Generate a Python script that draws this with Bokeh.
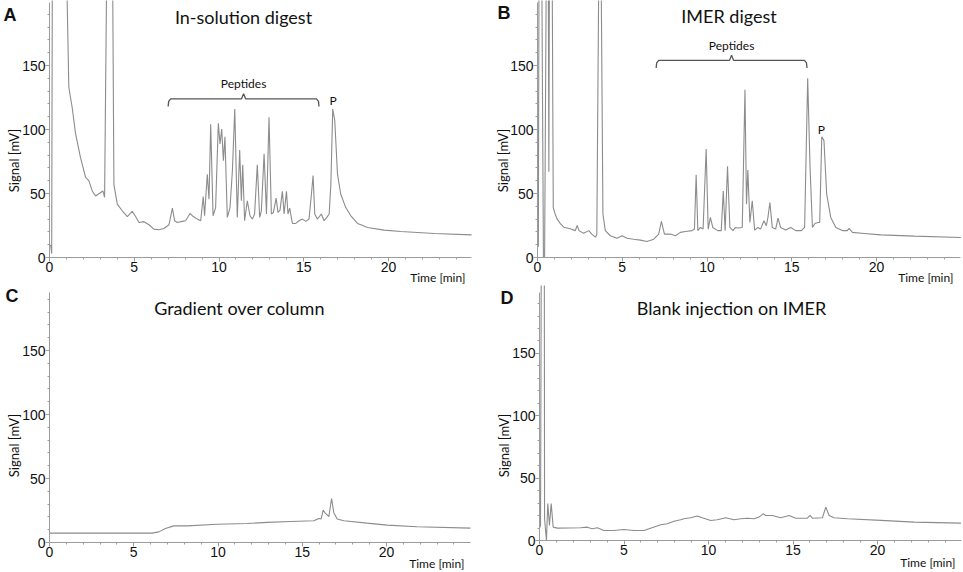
from math import pi
from bokeh.plotting import figure
from bokeh.models import Range1d, SingleIntervalTicker, Label
from bokeh.layouts import row, column
from bokeh.embed import file_html
from bokeh.resources import INLINE

# ---------------- data (time [min], signal [mV]) ----------------
trace_A = [(0, 10), (0.08, 9), (0.13, 3), (0.18, 300), (0.95, 300), (1.0, 230), (1.14, 133),
           (1.34, 117), (1.54, 96.5), (1.83, 78), (2.13, 62.6), (2.32, 60), (2.52, 52), (2.72, 48),
           (3.0, 50.6), (3.15, 52), (3.25, 47), (3.38, 230), (3.55, 350), (3.72, 230), (3.8, 57),
           (4.0, 41.7), (4.29, 36.5), (4.59, 32), (4.88, 36), (5.08, 32), (5.28, 27.4), (5.57, 28),
           (5.87, 25.6), (6.16, 22.2), (6.46, 21.7), (6.75, 22.7), (7.05, 25.6), (7.25, 38.6),
           (7.38, 28.7), (7.54, 27.4), (7.83, 28.2), (8.03, 28.7), (8.29, 34.4), (8.48, 32),
           (8.72, 30), (8.92, 28.7), (9.07, 47.7), (9.15, 32.6), (9.31, 65), (9.41, 45.6),
           (9.51, 104), (9.65, 32.6), (9.8, 39), (9.96, 104.9), (10.06, 88.7), (10.16, 100.4),
           (10.26, 75.7), (10.35, 94.4), (10.49, 31.3), (10.65, 39), (10.79, 67.8), (10.93, 116),
           (11.08, 31.3), (11.22, 84), (11.32, 44.3), (11.4, 72.5), (11.51, 28.7), (11.67, 44.3),
           (11.83, 32.6), (11.97, 30), (12.1, 34), (12.26, 72.5), (12.4, 31.3), (12.5, 36.5),
           (12.66, 81), (12.8, 34), (12.95, 109.6), (13.09, 34), (13.21, 35.2), (13.37, 46.4),
           (13.48, 35.2), (13.6, 37), (13.74, 51.7), (13.84, 34), (13.98, 51.7), (14.07, 34),
           (14.17, 38.6), (14.33, 26.6), (14.53, 26.6), (14.72, 28.7), (14.92, 30), (15.12, 28.2),
           (15.31, 30), (15.45, 49), (15.55, 64), (15.65, 34), (15.8, 30), (16.04, 34), (16.2, 28.7),
           (16.36, 31.3), (16.5, 34), (16.6, 57.4), (16.71, 116), (16.83, 107), (16.99, 65.2),
           (17.18, 49.6), (17.48, 39), (17.78, 32.6), (18.17, 26.6), (18.37, 25.6), (18.76, 23.5),
           (19.74, 21.4), (20.73, 20.3), (22.7, 18.8), (24.9, 17.7)]

trace_B = [(0, 8), (0.05, 9), (0.1, 300), (0.22, 300), (0.35, 0), (0.42, 1), (0.55, 300),
           (0.62, 300), (0.67, 67), (0.72, 300), (0.84, 300), (0.93, 39), (1.04, 34), (1.16, 30),
           (1.35, 26.5), (1.55, 23.7), (1.93, 22.5), (2.23, 21), (2.34, 25), (2.45, 21), (2.72, 19),
           (3.03, 21), (3.2, 18.3), (3.42, 15.9), (3.5, 18), (3.62, 230), (3.68, 300), (3.75, 230),
           (3.86, 34), (4.0, 21), (4.3, 17), (4.69, 15.1), (4.99, 17), (5.28, 15.1), (5.67, 14.3),
           (6.07, 13.6), (6.46, 12.5), (6.86, 14.3), (7.15, 18.3), (7.31, 28.2), (7.49, 18.3),
           (7.84, 18.3), (8.14, 17), (8.43, 19.6), (8.73, 20.3), (9.12, 21), (9.26, 22.2),
           (9.36, 64.7), (9.46, 21), (9.61, 23.5), (9.77, 22.2), (9.95, 84.8), (10.07, 22.2),
           (10.2, 31.3), (10.34, 23.5), (10.64, 21), (10.84, 21), (10.96, 52), (11.07, 21),
           (11.21, 71.2), (11.35, 23.5), (11.53, 21), (11.68, 23.5), (11.82, 23), (12.08, 23.5),
           (12.24, 131), (12.33, 41.7), (12.41, 68.3), (12.53, 27.4), (12.67, 44.3), (12.81, 21.4),
           (13.0, 23.5), (13.16, 22.2), (13.36, 28.7), (13.5, 24.8), (13.6, 31.8), (13.71, 43),
           (13.85, 23.5), (14.05, 22.2), (14.19, 30.8), (14.34, 23.5), (14.64, 21.4), (14.94, 23.5),
           (15.24, 21), (15.57, 21), (15.76, 23.5), (15.94, 140), (16.08, 70.4), (16.22, 23.5),
           (16.37, 26.6), (16.55, 27.4), (16.65, 27.4), (16.77, 94.4), (16.9, 91.3), (17.06, 49.6),
           (17.3, 31.3), (17.6, 23.5), (17.99, 21), (18.28, 21), (18.38, 22.7), (18.58, 19.6),
           (19.27, 18.8), (20.26, 17.7), (22.23, 16.7), (24.98, 15.6)]

trace_C = [(0, 7.3), (6.09, 7.3), (6.49, 8.3), (6.88, 11), (7.38, 13), (8.17, 13), (9.95, 14.3),
           (11.73, 14.9), (12.92, 15.7), (14.3, 16.4), (15.69, 17), (15.98, 18.8), (16.12, 18.3),
           (16.24, 25.3), (16.38, 22.7), (16.58, 20.3), (16.74, 34.4), (16.87, 23.5), (17.07, 18.3),
           (17.47, 17), (18.85, 15.1), (20.04, 13.6), (21.82, 12.3), (24.98, 11.2)]

trace_D = [(0, 10), (0.06, 12), (0.12, 300), (0.28, 300), (0.3, 17.4), (0.41, 0), (0.49, 29.7),
           (0.59, 12), (0.69, 29.7), (0.81, 10.7), (1.05, 9.9), (2.43, 10.2), (2.82, 10.7),
           (3.12, 9.4), (3.42, 10.2), (3.81, 8), (4.4, 8), (4.99, 8.8), (5.59, 8), (6.18, 8),
           (6.57, 9.9), (7.17, 12.6), (7.56, 13.4), (7.96, 15.5), (8.35, 16.6), (8.55, 17.4),
           (8.94, 18.2), (9.34, 19.6), (9.63, 18.2), (10.13, 16.1), (10.52, 16.6), (11.02, 18.2),
           (11.51, 16.6), (11.91, 17.4), (12.3, 17.9), (12.7, 17.4), (12.99, 18.8), (13.23, 21.4),
           (13.39, 20.1), (13.78, 20.1), (14.27, 18.2), (14.77, 20.1), (15.16, 17.9), (15.85, 17.9),
           (16.01, 20.1), (16.15, 17.9), (16.74, 18.2), (16.94, 26.8), (17.14, 20.1), (17.43, 18.2),
           (18.22, 17.4), (20.2, 16.1), (22.17, 14.7), (24.94, 13.9)]

panel_letters = ["A", "B", "C", "D"]
panel_titles = ["In-solution digest", "IMER digest", "Gradient over column", "Blank injection on IMER"]
x_axis_label = "Time [min]"
y_axis_label = "Signal [mV]"
x_tick_step = 5
y_tick_step = 50

# peptide window annotations: (start, end) in min, bracket level in mV
peptide_window_A = (7.0, 15.9, 124)
peptide_window_B = (7.0, 15.9, 154)
protein_peak_A = (16.73, 123)
protein_peak_B = (16.75, 100)

TRACE = "#8c8c8c"
AXIS = "#9c9c9c"
TEXT = "#111111"


def make_panel(trace, letter, title, fig_w, fig_h, left, bottom, ppm, ppv, x_len, y_len, txt):
    """left/bottom: pixel position of the origin inside the figure; ppm/ppv: px per min / mV."""
    t = [a for a, _ in trace]
    s = [b for _, b in trace]
    x0 = -left / ppm
    x1 = (fig_w - left) / ppm
    y0 = -(fig_h - bottom) / ppv
    y1 = bottom / ppv
    p = figure(width=fig_w, height=fig_h, x_range=Range1d(x0, x1), y_range=Range1d(y0, y1),
               output_backend="svg", toolbar_location=None,
               min_border_left=0, min_border_right=0, min_border_top=0, min_border_bottom=0)
    p.outline_line_color = None
    p.grid.visible = False
    p.background_fill_color = "white"
    p.border_fill_color = "white"
    p.xaxis.ticker = SingleIntervalTicker(interval=x_tick_step, num_minor_ticks=5)
    p.yaxis.ticker = SingleIntervalTicker(interval=y_tick_step, num_minor_ticks=5)
    p.xaxis.fixed_location = 0
    p.yaxis.fixed_location = 0
    p.xaxis.bounds = (0, x_len)
    p.yaxis.bounds = (0, y_len)
    for ax in (p.xaxis[0], p.yaxis[0]):
        ax.axis_line_color = AXIS
        ax.major_tick_line_color = AXIS
        ax.minor_tick_line_color = AXIS
        ax.major_tick_in = 0
        ax.minor_tick_in = 0
        ax.major_tick_out = 4
        ax.minor_tick_out = 2
        ax.major_label_text_font = "Liberation Sans"
        ax.major_label_text_font_size = "14px"
        ax.major_label_text_color = TEXT
        ax.major_label_standoff = 0
    p.line(t, s, line_color=TRACE, line_width=1.1)

    (lx, ly), (tx, ty), (sx, sy), (mx, my) = txt
    p.add_layout(Label(x=lx, y=ly, x_units="screen", y_units="screen", text=letter,
                       text_font="Liberation Sans", text_font_style="bold", text_font_size="18px",
                       text_align="left", text_baseline="middle", text_color=TEXT))
    p.add_layout(Label(x=tx, y=ty, x_units="screen", y_units="screen", text=title,
                       text_font="Lato", text_font_size="18px",
                       text_align="center", text_baseline="alphabetic", text_color=TEXT))
    p.add_layout(Label(x=sx, y=sy, x_units="screen", y_units="screen", text=y_axis_label,
                       text_font="Lato", text_font_size="13px", angle=pi / 2,
                       text_align="center", text_baseline="middle", text_color=TEXT))
    p.add_layout(Label(x=mx, y=my, x_units="screen", y_units="screen", text=x_axis_label,
                       text_font="Lato", text_font_size="12px",
                       text_align="right", text_baseline="middle", text_color=TEXT))
    return p


def add_brace(p, window, peak):
    x0, x1, yb = window
    xm = (x0 + x1) / 2
    bx = [x0, x0 + 0.03, x0 + 0.15, xm - 0.12, xm, xm + 0.12, x1 - 0.15, x1 - 0.03, x1]
    by = [yb - 6, yb - 2, yb, yb, yb + 4, yb, yb, yb - 2, yb - 6]
    p.line(bx, by, line_color="#555555", line_width=1.3)
    p.add_layout(Label(x=xm, y=yb + 12, text="Peptides", text_font="Lato", text_font_size="12px",
                       text_align="center", text_baseline="middle", text_color=TEXT))
    p.add_layout(Label(x=peak[0], y=peak[1], text="P", text_font="Lato", text_font_size="12px",
                       text_align="center", text_baseline="middle", text_color=TEXT))


pA = make_panel(trace_A, panel_letters[0], panel_titles[0], 480, 285, 49, 257, 16.95, 1.28, 24.9, 199.2,
                [(3, 271), (243, 268.5), (13, 125), (465, 8)])
pB = make_panel(trace_B, panel_letters[1], panel_titles[1], 482, 285, 57, 257, 16.95, 1.28, 24.96, 199.2,
                [(17, 273), (248.5, 269.5), (22, 125), (473, 8)])
pC = make_panel(trace_C, panel_letters[2], panel_titles[2], 480, 286, 49, 257, 16.85, 1.28, 24.98, 195.3,
                [(5, 276), (239, 263.5), (13, 126), (464, 8)])
pD = make_panel(trace_D, panel_letters[3], panel_titles[3], 482, 286, 59, 255, 16.9, 1.247, 24.97, 198.9,
                [(20, 274), (251, 263.5), (23, 126), (475, 9)])
add_brace(pA, peptide_window_A, protein_peak_A)
add_brace(pB, peptide_window_B, protein_peak_B)

layout = column(row(pA, pB), row(pC, pD))
open("out.html", "w").write(file_html(layout, INLINE))
